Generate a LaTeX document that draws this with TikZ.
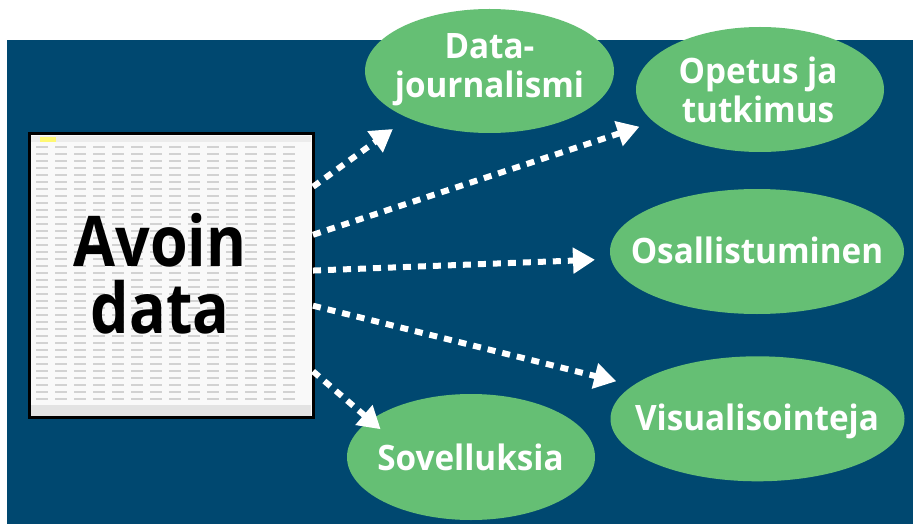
\documentclass[tikz,border=0pt]{standalone}
\usepackage{fontspec}
\setmainfont{Open Sans}
\newfontfamily\ovalfont{Open Sans}[FakeStretch=0.95]
\newfontfamily\bigfont{Open Sans}[FakeStretch=0.87]
\usetikzlibrary{arrows.meta,shapes.geometric}
\definecolor{bgblue}{HTML}{004870}
\definecolor{ovalgreen}{HTML}{65BF74}
\newcommand\twolines[2]{\vtop{\halign{\hfil##\hfil\cr#1\cr#2\cr}}}
\begin{document}
\begin{tikzpicture}[x=1pt,y=-1pt,
  oval/.style={ellipse, fill=ovalgreen, inner sep=0pt, outer sep=0pt},
  ovaltext/.style={anchor=base, inner sep=0pt, text=white, font=\ovalfont\bfseries\fontsize{35}{39}\selectfont},
  flow/.style={white, line width=6pt, dash pattern=on 8pt off 7pt, -{Triangle[length=22pt,width=25pt]}},
  cell/.style={gray!35, line width=1.6pt}
]
\fill[white] (0,0) rectangle (913,524);
\useasboundingbox (0,0) rectangle (913,524);
\fill[bgblue] (7,40) rectangle (913,524);

% spreadsheet picture
\node[draw=black, line width=3pt, fill=gray!5, minimum width=284pt, minimum height=283pt, inner sep=0pt, outer sep=0pt] (sheet) at (171,275.5) {};
\fill[gray!22] (31,405) rectangle (311,415.5);
\fill[gray!15] (31,136) rectangle (311,142);
\fill[yellow!55] (40,137) rectangle (56,142);
\foreach \r in {147,154,...,400}
  \foreach \c in {36,55,...,300}
    \draw[cell] (\c,\r) -- ++(12,0);

\node[inner sep=0pt, anchor=base, text=black, font=\bigfont\bfseries\fontsize{70}{66.6}\selectfont] (avoin) at (160,266.7)
  {\twolines{Avoin}{data}};

% ovals
\node[oval, minimum width=249pt, minimum height=124pt] (dj) at (489.5,71) {};
\node[oval, minimum width=248pt, minimum height=125pt] (ot) at (760,89.5) {};
\node[oval, minimum width=294pt, minimum height=125pt] (os) at (757,251.5) {};
\node[oval, minimum width=294pt, minimum height=125pt] (vi) at (757.5,418.8) {};
\node[oval, minimum width=248pt, minimum height=126pt] (so) at (471,457) {};

\node[ovaltext] (djt) at (489.5,58.3) {\twolines{Data-}{journalismi}};
\node[ovaltext] (ott) at (758,83.3) {\twolines{Opetus ja}{tutkimus}};
\node[ovaltext] (ost) at (757,263.3) {Osallistuminen};
\node[ovaltext] (vit) at (757,430.3) {Visualisointeja};
\node[ovaltext] (sot) at (470.5,470) {Sovelluksia};

% connectors
\draw[flow, shorten >=18.9pt] (sheet.32.5) -- (dj.210.57);
\draw[flow, shorten >=15.3pt] (sheet.16.7) -- (ot.197.35);
\draw[flow, shorten >=16.1pt] (sheet.2.2) -- (os.183.0);
\draw[flow, shorten >=17.4pt] (sheet.-12.5) -- (vi.165.52);
\draw[flow, shorten >=-13.7pt] (sheet.-34.2) -- (so.160.02);
\end{tikzpicture}
\end{document}
